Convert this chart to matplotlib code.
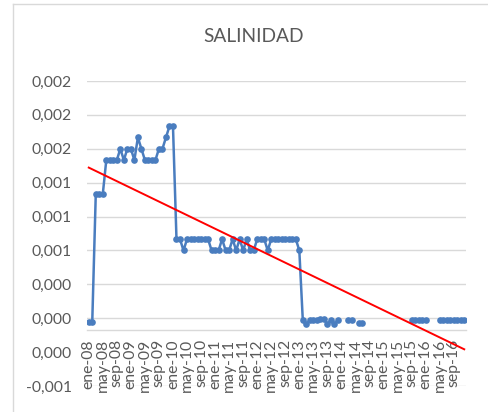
import numpy as np
import matplotlib
matplotlib.use("Agg")
import matplotlib.pyplot as plt
from matplotlib.lines import Line2D

plt.rcParams['font.family'] = ['Lato', 'DejaVu Sans']

# ---- data ----
N = None
salinidad = (
    [0.00007, 0.00007]
    + [0.0012] * 3
    + [0.0015] * 4
    + [0.0016, 0.0015, 0.0016, 0.0016, 0.0015, 0.0017, 0.0016]
    + [0.0015] * 4
    + [0.0016, 0.0016, 0.0017, 0.0018, 0.0018]
    + [0.0008, 0.0008, 0.0007]
    + [0.0008] * 7
    + [0.0007] * 3
    + [0.0008, 0.0007, 0.0007, 0.0008, 0.0007, 0.0008, 0.0007, 0.0008, 0.0007, 0.0007]
    + [0.0008] * 3
    + [0.0007]
    + [0.0008] * 8
    + [0.0007]
    + [0.00008, 0.00005, 0.00008, 0.00008, 0.00008, 0.00009, 0.00009,
       0.00005, 0.00008, 0.00005, 0.00008]
    + [N, N]
    + [0.00008, 0.00008]
    + [N]
    + [0.00006, 0.00006]
    + [N] * 13
    + [0.00008] * 5
    + [N] * 3
    + [0.00008] * 8
)

xtick_labels = ["ene-08", "may-08", "sep-08", "ene-09", "may-09", "sep-09",
                "ene-10", "may-10", "sep-10", "ene-11", "may-11", "sep-11",
                "ene-12", "may-12", "sep-12", "ene-13", "may-13", "sep-13",
                "ene-14", "may-14", "sep-14", "ene-15", "may-15", "sep-15",
                "ene-16", "may-16", "sep-16"]
ytick_values = [-0.0005, -0.0002, 0.0001, 0.0004, 0.0007, 0.0010,
                0.0013, 0.0016, 0.0019, 0.0022]
ytick_labels = ["-0,001", "0,000", "0,000", "0,000", "0,001", "0,001",
                "0,001", "0,002", "0,002", "0,002"]
title = "SALINIDAD"

# ---- plot ----
y = np.array([np.nan if v is None else v for v in salinidad], dtype=float)
x = np.arange(len(y))

W, H = 489, 412
fig = plt.figure(figsize=(W / 100, H / 100), dpi=100)
ax = fig.add_axes([87 / W, 1 - 386 / H, (466 - 87) / W, (386 - 81) / H])

gray_grid = '#d9d9d9'
txt = '#595959'

for k, v in enumerate(ytick_values):
    if k == 1:
        continue
    ax.axhline(v, color=gray_grid, lw=1.0, zorder=0)

ax.plot(x, y, color='#4a7dbf', lw=1.8, marker='o', markersize=4.8,
        markeredgewidth=0, zorder=3)

mask = ~np.isnan(y)
coef = np.polyfit(x[mask] + 1, y[mask], 1)
xt = np.array([0, len(y) - 1])
ax.plot(xt, np.polyval(coef, xt + 1), color='#ff0000', lw=1.4, zorder=4)

ax.set_xlim(-0.5, len(y) - 0.5)
ax.set_ylim(ytick_values[0], ytick_values[-1])

ax.set_yticks(ytick_values)
ax.set_yticklabels(ytick_labels)
ax.set_xticks(np.arange(0, 4 * len(xtick_labels), 4))
ax.set_xticklabels(xtick_labels)

ax.tick_params(axis='y', length=0, pad=11, labelsize=11.3, labelcolor=txt)
ax.tick_params(axis='x', length=0, pad=7, labelsize=11.3, labelcolor=txt,
               labelrotation=90)
for lab in ax.get_xticklabels():
    lab.set_rotation(90)
    lab.set_va('top')
    lab.set_ha('center')

for s in ['top', 'right', 'left']:
    ax.spines[s].set_visible(False)
ax.spines['bottom'].set_position(('data', 0))
ax.spines['bottom'].set_color(gray_grid)
ax.spines['bottom'].set_linewidth(1.0)

fig.text(254 / W, 1 - 36 / H, title, ha='center', va='center',
         fontsize=13.8, color=txt)

# chart area border (left/top visible)
fig.add_artist(Line2D([13.5 / W, 13.5 / W], [0, 1 - 3.5 / H],
                      transform=fig.transFigure, color=gray_grid, lw=1.0))
fig.add_artist(Line2D([13.5 / W, 1], [1 - 3.5 / H, 1 - 3.5 / H],
                      transform=fig.transFigure, color=gray_grid, lw=1.0))

fig.savefig("out.png", dpi=100)
